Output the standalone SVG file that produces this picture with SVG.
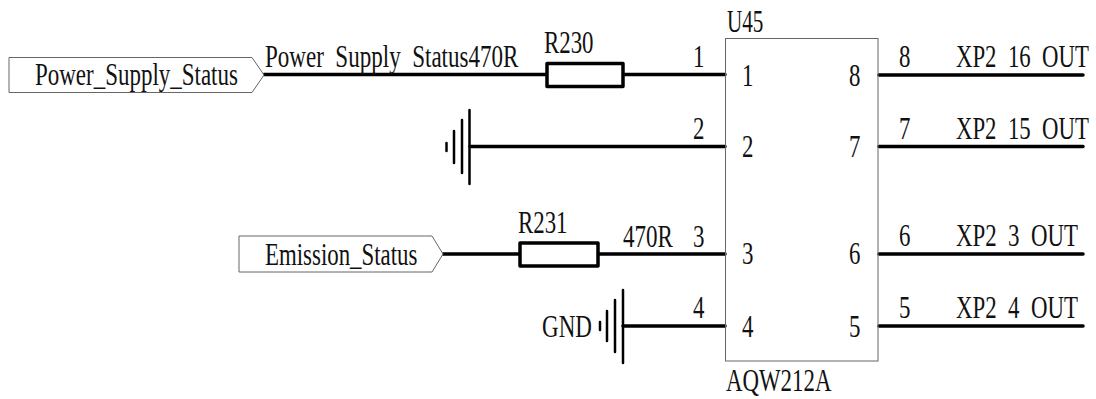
<svg xmlns="http://www.w3.org/2000/svg" width="1096" height="399" viewBox="0 0 1096 399">
<style>
text{font-family:"Liberation Serif","Times New Roman",serif;font-size:32px;fill:#111;white-space:pre}
.w{stroke:#000;stroke-width:3.5;fill:none;stroke-linecap:round}
.g{stroke:#000;stroke-width:2.5;fill:none;stroke-linecap:round}
.r{stroke:#000;stroke-width:3.500;fill:#fff;stroke-linejoin:round}
.b{stroke:#666;stroke-width:1;fill:#fff}
</style>
<rect width="1096" height="399" fill="#fff"/>
<g id="connectors">
<path class="w" d="M264 74.500H725M470 146.500H725M443 254H725M623 326H725M879 75H1083M879 146.500H1083M879 254H1083M879 326H1083"/>
</g>
<g id="U45">
<rect class="b" x="725.500" y="38.500" width="152.500" height="322.500" fill-opacity="0"/>
<text transform="translate(727 32) scale(.66 1)">U45</text>
<text transform="translate(726 391) scale(.715 1)">AQW212A</text>
<text transform="translate(742 86) scale(.715 1)">1</text>
<text transform="translate(742 157) scale(.715 1)">2</text>
<text transform="translate(742 264) scale(.715 1)">3</text>
<text transform="translate(742 337) scale(.715 1)">4</text>
<text transform="translate(849 86) scale(.715 1)">8</text>
<text transform="translate(849 157) scale(.715 1)">7</text>
<text transform="translate(849 264) scale(.715 1)">6</text>
<text transform="translate(849 337) scale(.715 1)">5</text>
<text transform="translate(693 67) scale(.715 1)">1</text>
<text transform="translate(693 139) scale(.715 1)">2</text>
<text transform="translate(693 247) scale(.715 1)">3</text>
<text transform="translate(693 318) scale(.715 1)">4</text>
<text transform="translate(899 67) scale(.715 1)">8</text>
<text transform="translate(899 139) scale(.715 1)">7</text>
<text transform="translate(899 246) scale(.715 1)">6</text>
<text transform="translate(899 318) scale(.715 1)">5</text>
</g>
<g id="port-power-supply-status">
<polygon class="b" points="9,57.500 252,57.500 264,75 252,92.500 9,92.500"/>
<text transform="translate(35 85) scale(.718 1)">Power_Supply_Status</text>
</g>
<g id="net-power-supply-status">
<text transform="translate(265 67) scale(.72 1)">Power  Supply  Status470R</text>
</g>
<g id="R230">
<rect class="r" x="547" y="63.500" width="76" height="23"/>
<text transform="translate(544 53) scale(.715 1)">R230</text>
</g>
<g id="ground-2">
<path class="g" d="M469.500 110V184M462 120V173M454 131V163"/>
<path class="g" d="M446.500 143V151"/>
</g>
<g id="port-emission-status">
<polygon class="b" points="239,236 432,236 443,254 432,272 239,272"/>
<text transform="translate(265 265) scale(.715 1)">Emission_Status</text>
</g>
<g id="R231">
<rect class="r" x="520" y="243" width="78" height="23"/>
<text transform="translate(518 233) scale(.715 1)">R231</text>
<text transform="translate(623 247) scale(.72 1)">470R</text>
</g>
<g id="GND">
<text transform="translate(542 337) scale(.72 1)">GND</text>
<path class="g" d="M623 290V363M615 300V352M607 311V341"/>
<path class="g" d="M600 322V330"/>
</g>
<g id="net-xp2-16"><text transform="translate(956 67) scale(.712 1)">XP2  16  OUT</text></g>
<g id="net-xp2-15"><text transform="translate(956 139) scale(.712 1)">XP2  15  OUT</text></g>
<g id="net-xp2-3"><text transform="translate(956 246) scale(.715 1)">XP2  3  OUT</text></g>
<g id="net-xp2-4"><text transform="translate(956 318) scale(.715 1)">XP2  4  OUT</text></g>
</svg>
